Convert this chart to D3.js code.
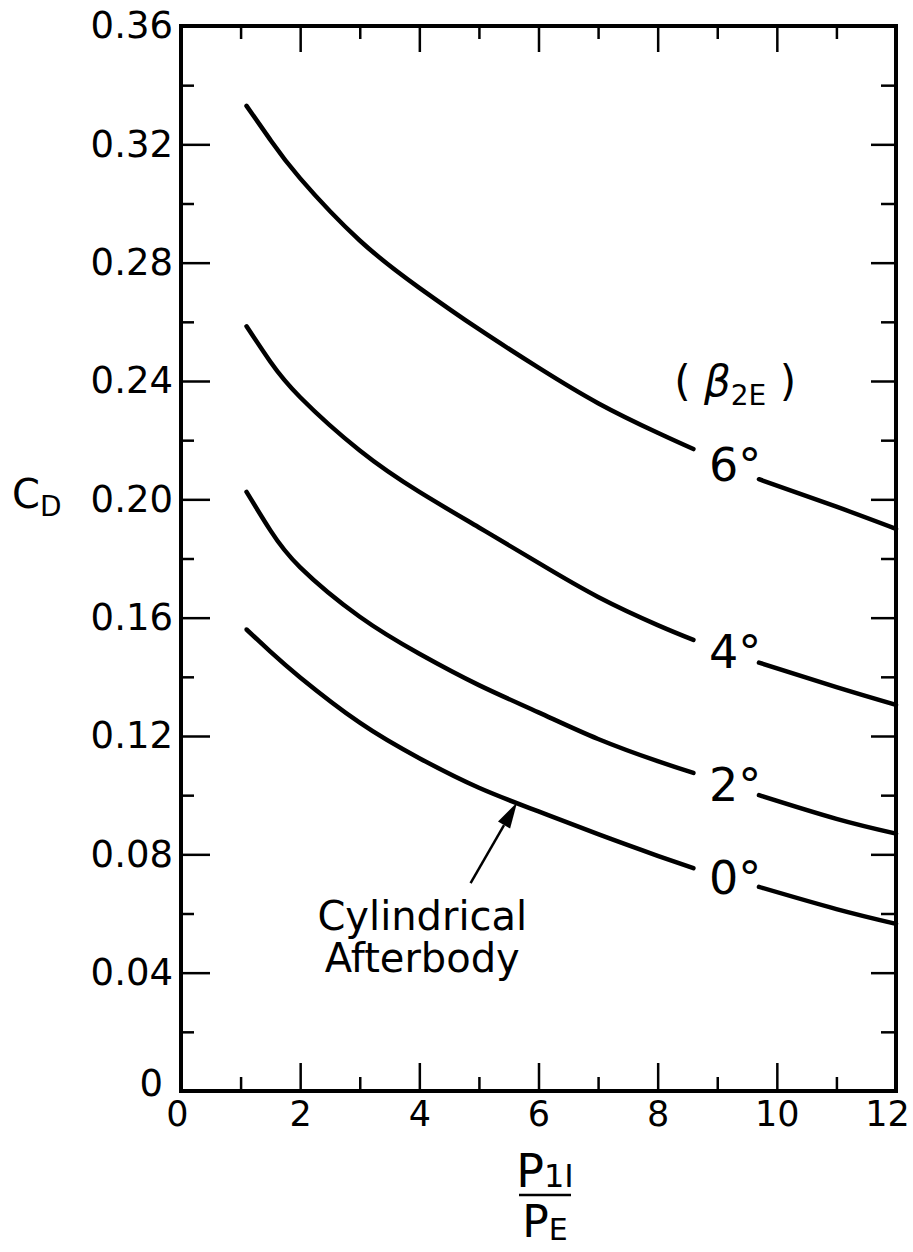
<!DOCTYPE html>
<html>
<head>
<meta charset="utf-8">
<script src="https://cdn.jsdelivr.net/npm/d3@7"></script>
<style>
  body { margin: 0; background: #fff; }
  text { font-family: "DejaVu Sans", sans-serif; fill: #000; }
</style>
</head>
<body>
<div id="chart"></div>
<script>
// pressure ratio P1I/PE at which the curves were read
var pRatio = [1.1, 1.5, 2, 3, 4, 5, 6, 7, 8, 8.6, 9.7, 11, 12];
// drag coefficient for each boattail angle
var cd6 = [0.333, 0.3215, 0.3085, 0.2875, 0.2715, 0.2575, 0.2445, 0.2325, 0.2225, 0.217, 0.2068, 0.1975, 0.190];
var cd4 = [0.2585, 0.2465, 0.2345, 0.2165, 0.2025, 0.1905, 0.1785, 0.167, 0.1575, 0.1525, 0.1448, 0.1365, 0.1305];
var cd2 = [0.2025, 0.1895, 0.177, 0.1603, 0.1478, 0.1372, 0.128, 0.119, 0.1115, 0.1075, 0.100, 0.092, 0.087];
var cd0 = [0.156, 0.1485, 0.1398, 0.1245, 0.1125, 0.1025, 0.0945, 0.0868, 0.0795, 0.0753, 0.069, 0.0615, 0.0565];
var betaLabels = ["6°", "4°", "2°", "0°"];
var xMajor = [0, 2, 4, 6, 8, 10, 12];
var xMinor = [1, 3, 5, 7, 9, 11];
var yMajor = [0, 0.04, 0.08, 0.12, 0.16, 0.20, 0.24, 0.28, 0.32, 0.36];
var yMinor = [0.02, 0.06, 0.10, 0.14, 0.18, 0.22, 0.26, 0.30, 0.34];

var margin = { top: 26, right: 17, bottom: 161, left: 181 },
    W = 913, H = 1252,
    width = W - margin.left - margin.right,
    height = H - margin.top - margin.bottom;

var svg = d3.select("#chart").append("svg")
    .attr("width", W)
    .attr("height", H)
    .append("g")
    .attr("transform", "translate(" + margin.left + "," + margin.top + ")");

var x = d3.scaleLinear().domain([0, 12]).range([0, width]);
var y = d3.scaleLinear().domain([0, 0.36]).range([height, 0]);

var fmtY = function (d) { return d === 0 ? "0" : d3.format(".2f")(d); };

// axes, ticks pointing inward on all four sides
function styleAxis(g, fs) {
    g.select(".domain").remove();
    g.selectAll("line").attr("stroke", "#000").attr("stroke-width", 2.5);
    g.selectAll("text").style("font-size", fs + "px");
}

var yl = svg.append("g")
    .call(d3.axisLeft(y).tickValues(yMajor).tickSize(-29).tickPadding(8).tickFormat(fmtY))
    .call(styleAxis, 37);
// the corner zero sits up and left of the axis corner
yl.selectAll(".tick text").filter(function (d) { return d === 0; })
    .attr("dx", -10).attr("y", -7);
svg.append("g")
    .call(d3.axisLeft(y).tickValues(yMinor).tickSize(-13).tickFormat(""))
    .call(styleAxis, 37);
svg.append("g").attr("transform", "translate(" + width + ",0)")
    .call(d3.axisRight(y).tickValues(yMajor).tickSize(-25).tickFormat(""))
    .call(styleAxis, 37);
svg.append("g").attr("transform", "translate(" + width + ",0)")
    .call(d3.axisRight(y).tickValues(yMinor).tickSize(-15).tickFormat(""))
    .call(styleAxis, 37);
var xb = svg.append("g").attr("transform", "translate(0," + height + ")")
    .call(d3.axisBottom(x).tickValues(xMajor).tickSize(-28).tickPadding(10).tickFormat(d3.format("d")))
    .call(styleAxis, 35);
// end labels sit a little inside, as in the original
xb.selectAll(".tick text").attr("dx", function (d) { return d === 0 ? -4 : (d === 12 ? -9 : 0); });
svg.append("g").attr("transform", "translate(0," + height + ")")
    .call(d3.axisBottom(x).tickValues(xMinor).tickSize(-14).tickFormat(""))
    .call(styleAxis, 35);
svg.append("g")
    .call(d3.axisTop(x).tickValues(xMajor).tickSize(-26).tickFormat(""))
    .call(styleAxis, 35);
svg.append("g")
    .call(d3.axisTop(x).tickValues(xMinor).tickSize(-13).tickFormat(""))
    .call(styleAxis, 35);

svg.append("rect")
    .attr("width", width).attr("height", height)
    .attr("fill", "none").attr("stroke", "#000").attr("stroke-width", 4);

// curves, broken where the angle label sits
var gapAt = 10;
var line = d3.line()
    .x(function (d) { return x(d[0]); })
    .y(function (d) { return y(d[1]); })
    .curve(d3.curveNatural);

var series = [cd6, cd4, cd2, cd0];
series.forEach(function (cd, i) {
    var pts = pRatio.map(function (p, j) { return [p, cd[j]]; });
    [pts.slice(0, gapAt), pts.slice(gapAt)].forEach(function (seg) {
        svg.append("path")
            .datum(seg)
            .attr("d", line)
            .attr("fill", "none")
            .attr("stroke", "#000")
            .attr("stroke-width", 4.5)
            .attr("stroke-linecap", "round");
    });
    svg.append("text")
        .attr("x", x(9.3))
        .attr("y", y((cd[gapAt - 1] + cd[gapAt]) / 2))
        .attr("dy", "0.36em")
        .attr("text-anchor", "middle")
        .style("font-size", "46px")
        .text(betaLabels[i]);
});

// (β2E) legend title
var t = svg.append("text")
    .attr("x", x(9.3))
    .attr("y", y(0.235))
    .attr("text-anchor", "middle")
    .style("font-size", "42px");
t.append("tspan").text("( ");
t.append("tspan").style("font-style", "italic").text("β");
t.append("tspan").attr("dy", 9).style("font-size", "28px").text("2E");
t.append("tspan").attr("dy", -9).text(" )");

// Cylindrical Afterbody note with arrow to the 0° curve
var tipX = 5.64, tailX = 4.86, tailY = 0.0703;
var tipY = 0.0975;
var x1 = x(tailX), y1 = y(tailY), x2 = x(tipX), y2 = y(tipY);
var ang = Math.atan2(y2 - y1, x2 - x1);
var hl = 26, hw = 7;
var bx = x2 - hl * Math.cos(ang), by = y2 - hl * Math.sin(ang);
svg.append("line")
    .attr("x1", x1).attr("y1", y1).attr("x2", bx).attr("y2", by)
    .attr("stroke", "#000").attr("stroke-width", 2.5);
svg.append("path")
    .attr("d", "M" + x2 + "," + y2 +
        "L" + (bx + hw * Math.sin(ang)) + "," + (by - hw * Math.cos(ang)) +
        "L" + (bx - hw * Math.sin(ang)) + "," + (by + hw * Math.cos(ang)) + "Z")
    .attr("fill", "#000");

svg.append("text")
    .attr("x", x(4.05)).attr("y", y(0.0544))
    .attr("text-anchor", "middle")
    .style("font-size", "40px")
    .text("Cylindrical");
svg.append("text")
    .attr("x", x(4.05)).attr("y", y(0.0402))
    .attr("text-anchor", "middle")
    .style("font-size", "40px")
    .text("Afterbody");

// y axis title C_D
var yt = svg.append("text")
    .attr("x", -margin.left + 12)
    .attr("y", y(0.197))
    .style("font-size", "40px");
yt.append("tspan").text("C");
yt.append("tspan").attr("dy", 8).style("font-size", "28px").text("D");

// x axis title, the fraction P1I / PE
var fx = 364, fy = height + 104;
var num = svg.append("text")
    .attr("x", fx).attr("y", fy - 8)
    .attr("text-anchor", "middle")
    .style("font-size", "46px");
num.append("tspan").text("P");
num.append("tspan").style("font-size", "32px").text("1I");
svg.append("line")
    .attr("x1", fx - 26).attr("x2", fx + 26)
    .attr("y1", fy).attr("y2", fy)
    .attr("stroke", "#000").attr("stroke-width", 2.5);
var den = svg.append("text")
    .attr("x", fx).attr("y", fy + 42)
    .attr("text-anchor", "middle")
    .style("font-size", "44px");
den.append("tspan").text("P");
den.append("tspan").attr("dy", 3).style("font-size", "30px").text("E");
</script>
</body>
</html>
